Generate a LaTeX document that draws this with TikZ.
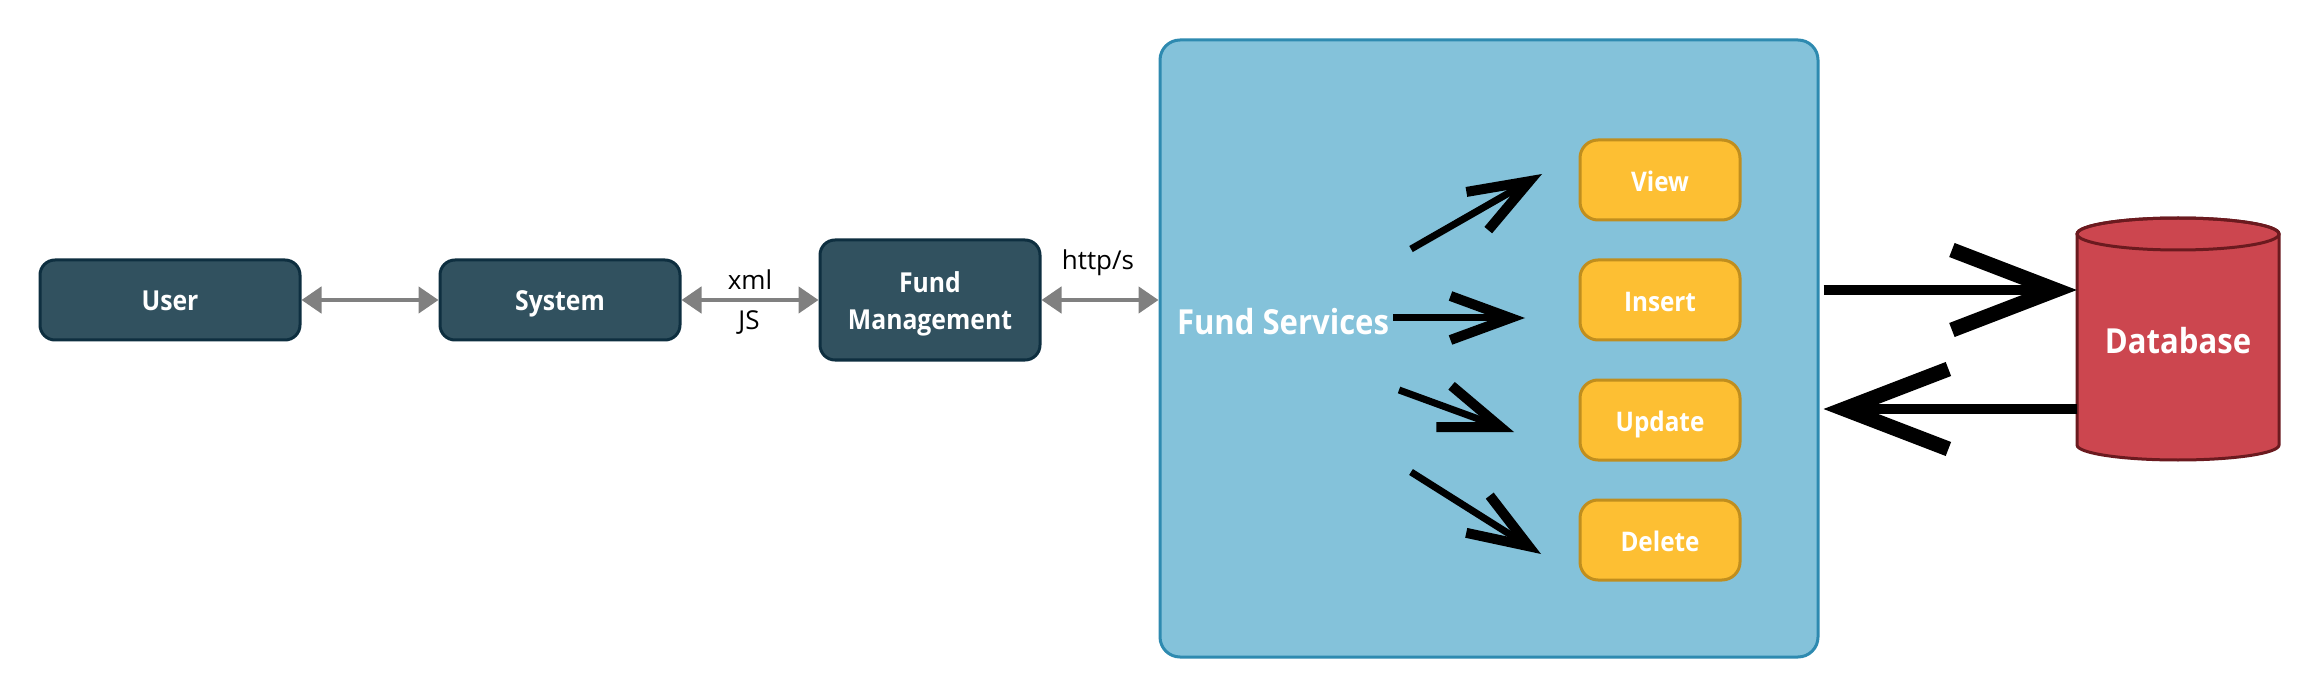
\documentclass[tikz,border=0pt]{standalone}
\usepackage{fontspec}
\setmainfont{Open Sans}
\newfontfamily\narrowfont[FakeStretch=0.9]{Open Sans}
\usetikzlibrary{arrows.meta}
\definecolor{darkfill}{HTML}{31515F}
\definecolor{darkline}{HTML}{0E2F40}
\definecolor{fsfill}{HTML}{84C2DA}
\definecolor{fsline}{HTML}{2E8AB0}
\definecolor{yfill}{HTML}{FDBF33}
\definecolor{yline}{HTML}{C08E1E}
\definecolor{dbfill}{HTML}{CC464F}
\definecolor{dbline}{HTML}{6B1A1F}
\definecolor{arrowgray}{HTML}{808080}
\begin{document}
\begin{tikzpicture}[x=1pt,y=-1pt,
  darkbox/.style={draw=darkline, fill=darkfill, line width=3pt, rounded corners=15pt,
    text=white, font=\narrowfont\fontsize{27.5}{37}\selectfont\bfseries, align=center, inner sep=0pt,
    text height=22pt, text depth=0pt},
  fsbox/.style={draw=fsline, fill=fsfill, line width=3pt, rounded corners=20pt, inner sep=0pt},
  ybox/.style={draw=yline, fill=yfill, line width=3pt, rounded corners=18pt,
    minimum width=160pt, minimum height=80pt, inner sep=0pt,
    text height=23pt, text depth=0pt,
    text=white, font=\narrowfont\fontsize{27}{30}\selectfont\bfseries},
  bigtext/.style={anchor=base, inner sep=0pt, text=white, font=\narrowfont\fontsize{34.5}{40}\selectfont\bfseries},
  lbl/.style={anchor=base, inner sep=0pt, font=\fontsize{26}{30}\selectfont},
  grayarrow/.style={draw=arrowgray, line width=4.5pt,
    {Triangle[length=20pt,width=26pt]}-{Triangle[length=20pt,width=26pt]}},
  openarrow/.style={line width=7pt,
    -{Straight Barb[length=60pt,width=44pt,line width=10pt,sharp]}},
  bigarrow/.style={line width=10pt,
    -{Straight Barb[length=104pt,width=80pt,line width=15pt,sharp]}}
]
\fill[white] (0,0) rectangle (2320,700);
\useasboundingbox (0,0) rectangle (2320,700);

% left chain
\node[darkbox, minimum width=260pt, minimum height=80pt] (user) at (170,300) {User};
\node[darkbox, minimum width=240pt, minimum height=80pt] (system) at (560,300) {System};
\node[darkbox, minimum width=220pt, minimum height=120pt, text height=60pt] (fm) at (930,300) {Fund\\Management};

% fund services container
\node[fsbox, minimum width=658pt, minimum height=617pt] (fs) at (1489,348.5) {};
\node[bigtext] (fstext) at (1283,335) {Fund Services};

\node[ybox] (view) at (1660,180) {View};
\node[ybox] (insert) at (1660,300) {Insert};
\node[ybox] (update) at (1660,420) {Update};
\node[ybox] (delete) at (1660,540) {Delete};

% database
\node[minimum width=202pt, minimum height=242pt, inner sep=0pt] (db) at (2178,339) {};
\path[draw=dbline, fill=dbfill, line width=3pt]
  (2077,234) -- (2077,445) arc[start angle=180, end angle=360, x radius=101pt, y radius=15pt]
  -- (2279,234) arc[start angle=0, end angle=180, x radius=101pt, y radius=16pt] -- cycle;
\draw[dbline, line width=3pt] (2178,234) ellipse[x radius=101pt, y radius=16pt];
\node[bigtext] (dbtext) at (2178,353) {Database};

% gray connectors
\draw[grayarrow] (user.east) -- (system.west);
\draw[grayarrow] (system.east) -- (fm.west);
\draw[grayarrow] (fm.east) -- (fm.east -| fs.west);
\node[lbl] (xml) at (750,290) {xml};
\node[lbl] (js) at (749,330) {JS};
\node[lbl] (http) at (1098,270) {http/s};

% internal black arrows
\coordinate (v0) at (1411,249); \coordinate (v1) at (1542,174);
\coordinate (i0) at (1393,318); \coordinate (i1) at (1525,318);
\coordinate (u0) at (1399,390); \coordinate (u1) at (1514,432);
\coordinate (d0) at (1411,472); \coordinate (d1) at (1541,554);
\draw[openarrow] (v0) -- (v1);
\draw[openarrow] (i0) -- (i1);
\draw[openarrow] (u0) -- (u1);
\draw[openarrow] (d0) -- (d1);

% database arrows
\coordinate (r1) at (0,290);
\coordinate (r2) at (0,409);
\draw[bigarrow, shorten <=4pt] (fs.east |- r1) -- (db.west |- r1);
\draw[bigarrow, shorten >=4pt] (db.west |- r2) -- (fs.east |- r2);
\end{tikzpicture}
\end{document}
